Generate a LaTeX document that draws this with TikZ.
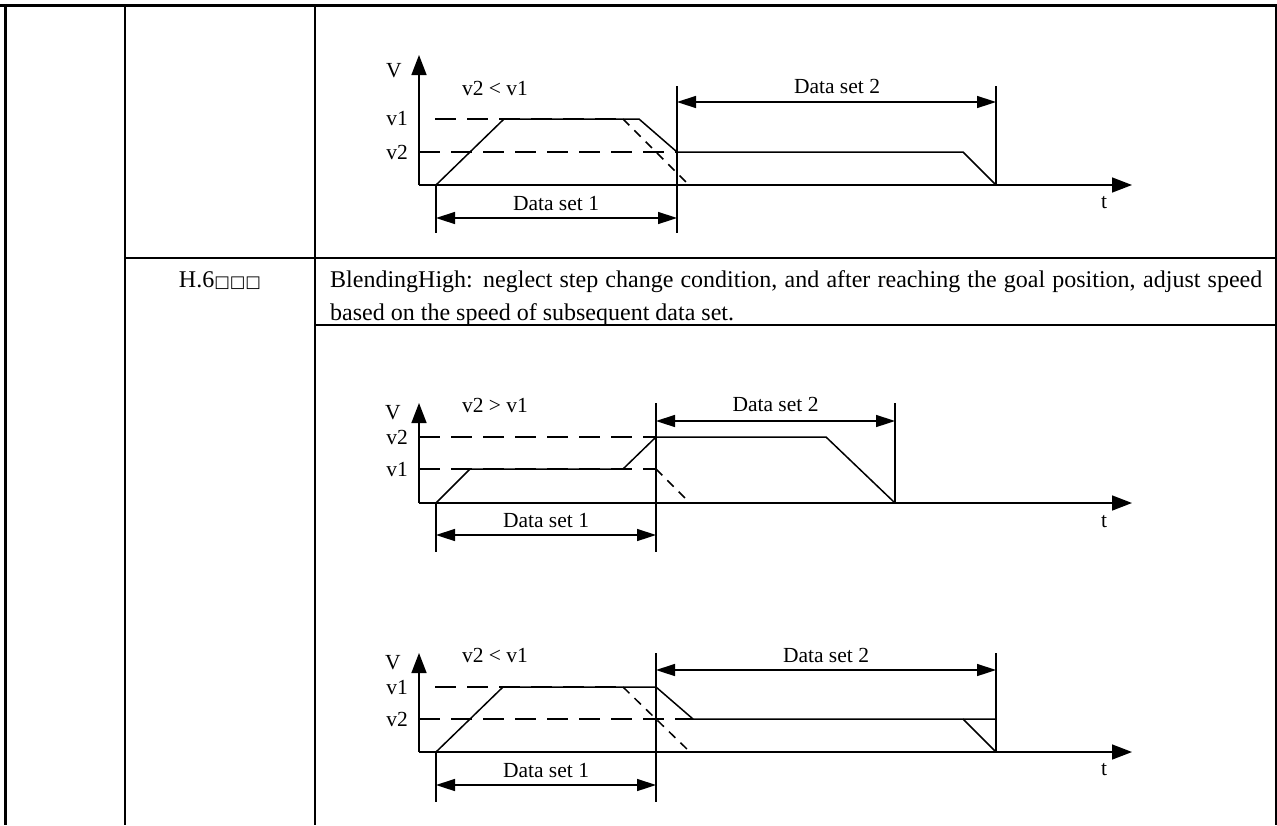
\documentclass[tikz,border=0pt]{standalone}
\usepackage{fontspec}
\setmainfont{Liberation Serif}
\newfontfamily\boxfont{DejaVu Sans}
\usetikzlibrary{arrows.meta}
\tikzset{
  frameline/.style={black, line width=3.5pt},
  gridline/.style={black, line width=2pt},
  profile/.style={black, line width=1.5pt},
  levelline/.style={black, line width=1.5pt, dash pattern=on 21pt off 11pt},
  rampline/.style={black, line width=1.5pt, dash pattern=on 9pt off 7pt},
  limit/.style={black, line width=1.5pt},
  vaxis/.style={-{Triangle[length=20pt, width=15pt]}, black, line width=1.5pt},
  dimline/.style={{Triangle[length=19pt, width=12pt]}-{Triangle[length=19pt, width=12pt]}, black, line width=1.5pt},
  lbl/.style={font=\fontsize{21.5}{25}\selectfont, inner sep=0pt},
  cell/.style={font=\fontsize{24}{28}\selectfont, inner sep=0pt}
}

\begin{document}
\begin{tikzpicture}[x=1pt, y=1pt]
  \useasboundingbox (0,0) rectangle (1277,-825);
  % table frame
  \draw[frameline] (0,-5.5) -- (1277,-5.5);
  \draw[frameline] (5.5,-3.75) -- (5.5,-825);
  \draw[gridline] (125,-5.5) -- (125,-825);
  \draw[gridline] (315,-5.5) -- (315,-825);
  \draw[gridline] (1276,-5.5) -- (1276,-825);
  \draw[gridline] (125,-258) -- (1276,-258);
  \draw[gridline] (315,-325) -- (1276,-325);
  % table text
  \node[cell, anchor=base] (code) at (220,-287) {H.6{\boxfont\fontsize{16.5}{16.5}\selectfont □□□}};
  \node[cell, anchor=base west] (desc1) at (330,-287) {\makebox[932pt][s]{BlendingHigh: neglect step change condition, and after reaching the goal position, adjust speed}};
  \node[cell, anchor=base west] (desc2) at (330,-320) {based on the speed of subsequent data set.};

  % chart 1: v2 < v1
  \begin{scope}[shift={(419,-185)}]
    \coordinate (a0) at (0,0);
    \coordinate (aV) at (0,130);
    \coordinate (aT) at (713,0);
    \draw[vaxis] (a0) -- (aV);
    \draw[vaxis] (a0) -- (aT);
    \node[lbl] (aVlbl) at (-25,114) {V};
    \node[lbl] (atlbl) at (685,-18) {t};
    \node[lbl] (av1) at (-22,66) {v1};
    \node[lbl] (av2) at (-22,33) {v2};
    \node[lbl] (acond) at (76,97) {v2 < v1};
    \draw[levelline] (16,66) -- (204,66);
    \draw[levelline] (0,33) -- (258,33);
    \draw[rampline] (204,66) -- (270,0);
    \draw[profile] (17,0) -- (85,66) -- (220,66) -- (258,33) -- (544,33) -- (577,0);
    \draw[limit] (17,0) -- (17,-48);
    \draw[limit] (258,99) -- (258,-48);
    \draw[limit] (577,99) -- (577,0);
    \coordinate (ad1l) at (17,-33);
    \coordinate (ad1r) at (258,-33);
    \coordinate (ad2l) at (258,83);
    \coordinate (ad2r) at (577,83);
    \draw[dimline] (ad1l) -- (ad1r);
    \draw[dimline] (ad2l) -- (ad2r);
    \node[lbl] (ads1) at (137,-19) {Data set 1};
    \node[lbl] (ads2) at (418,99) {Data set 2};
  \end{scope}

  % chart 2: v2 > v1
  \begin{scope}[shift={(419,-503)}]
    \coordinate (b0) at (0,0);
    \coordinate (bV) at (0,100);
    \coordinate (bT) at (713,0);
    \draw[vaxis] (b0) -- (bV);
    \draw[vaxis] (b0) -- (bT);
    \node[lbl] (bVlbl) at (-26,90) {V};
    \node[lbl] (btlbl) at (685,-19) {t};
    \node[lbl] (bv2) at (-22,66) {v2};
    \node[lbl] (bv1) at (-22,34) {v1};
    \node[lbl] (bcond) at (76,98) {v2 > v1};
    \draw[levelline] (0,66) -- (237,66);
    \draw[levelline] (0,34) -- (237,34);
    \draw[rampline] (237,34) -- (271,0);
    \draw[profile] (17,0) -- (51,34) -- (204,34) -- (237,66) -- (407,66) -- (476,0);
    \draw[limit] (17,0) -- (17,-49);
    \draw[limit] (237,100) -- (237,-49);
    \draw[limit] (476,100) -- (476,0);
    \coordinate (bd1l) at (17,-32);
    \coordinate (bd1r) at (237,-32);
    \coordinate (bd2l) at (237,82);
    \coordinate (bd2r) at (476,82);
    \draw[dimline] (bd1l) -- (bd1r);
    \draw[dimline] (bd2l) -- (bd2r);
    \node[lbl] (bds1) at (127,-17) {Data set 1};
    \node[lbl] (bds2) at (356.5,98.5) {Data set 2};
  \end{scope}

  % chart 3: v2 < v1
  \begin{scope}[shift={(419,-752)}]
    \coordinate (c0) at (0,0);
    \coordinate (cV) at (0,99);
    \coordinate (cT) at (713,0);
    \draw[vaxis] (c0) -- (cV);
    \draw[vaxis] (c0) -- (cT);
    \node[lbl] (cVlbl) at (-26,89) {V};
    \node[lbl] (ctlbl) at (685,-18) {t};
    \node[lbl] (cv1) at (-22,65) {v1};
    \node[lbl] (cv2) at (-22,33) {v2};
    \node[lbl] (ccond) at (76,97) {v2 < v1};
    \draw[levelline] (16,65) -- (204,65);
    \draw[levelline] (0,33) -- (274,33);
    \draw[rampline] (204,65) -- (271,0);
    \draw[profile] (17,0) -- (84,65) -- (237,65) -- (274,33) -- (577,33);
    \draw[profile] (544,33) -- (577,0);
    \draw[limit] (17,0) -- (17,-50);
    \draw[limit] (237,99) -- (237,-50);
    \draw[limit] (577,99) -- (577,0);
    \coordinate (cd1l) at (17,-33);
    \coordinate (cd1r) at (237,-33);
    \coordinate (cd2l) at (237,82);
    \coordinate (cd2r) at (577,82);
    \draw[dimline] (cd1l) -- (cd1r);
    \draw[dimline] (cd2l) -- (cd2r);
    \node[lbl] (cds1) at (127,-18) {Data set 1};
    \node[lbl] (cds2) at (407,97) {Data set 2};
  \end{scope}
\end{tikzpicture}
\end{document}
